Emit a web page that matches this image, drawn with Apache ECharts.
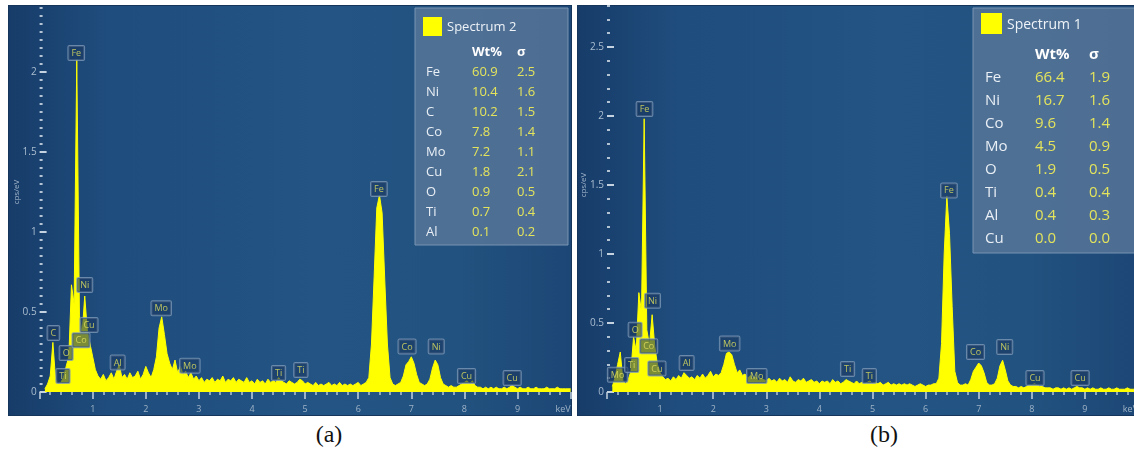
<!DOCTYPE html>
<html>
<head>
<meta charset="utf-8">
<script src="https://cdn.jsdelivr.net/npm/echarts@6/dist/echarts.min.js"></script>
<style>
  html, body { margin: 0; padding: 0; width: 1134px; height: 457px; overflow: hidden; background: #ffffff; }
  .panel {
    position: absolute; top: 5px; width: 564px; height: 411px;
    background: linear-gradient(to right, #173c69 0%, #1f4d7d 18%, #235484 55%, #22527f 80%, #1c4675 100%);
    box-shadow: inset 0 0 0 1px #16355a;
  }
  #pa { left: 8px; }
  #pb { left: 577px; }
  .cap {
    position: absolute; top: 421px; transform: translateX(-50%);
    font-family: "Liberation Serif", serif; font-size: 24px; color: #111;
  }
</style>
</head>
<body>
<div id="pa" class="panel"></div>
<div id="pb" class="panel"></div>
<div class="cap" style="left:329px">(a)</div>
<div class="cap" style="left:884px">(b)</div>
<script>
// Detector channel grid (keV): first channel and channel width
const CHANNEL_START_KEV = 0.10;
const CHANNEL_WIDTH_KEV = 0.05;

// Spectrum 2 intensities (cps/eV), one value per channel, 0.10 .. 10.00 keV
const countsSpectrum2 = [
  0.02,0.05,0.10,0.31,0.08,0.05,0.06,0.09,0.16,0.22,
  0.67,0.55,2.08,0.48,0.36,0.60,0.38,0.30,0.22,0.14,
  0.10,0.08,0.11,0.07,0.09,0.12,0.08,0.13,0.17,0.09,
  0.11,0.08,0.12,0.09,0.10,0.13,0.08,0.11,0.16,0.12,
  0.09,0.14,0.22,0.40,0.47,0.36,0.24,0.18,0.14,0.20,
  0.12,0.16,0.11,0.13,0.09,0.12,0.08,0.10,0.07,0.09,
  0.06,0.08,0.07,0.09,0.06,0.08,0.07,0.10,0.06,0.08,
  0.07,0.09,0.06,0.08,0.07,0.06,0.09,0.06,0.07,0.05,
  0.08,0.06,0.07,0.05,0.08,0.06,0.07,0.06,0.09,0.07,
  0.06,0.05,0.07,0.06,0.05,0.06,0.08,0.07,0.05,0.06,
  0.05,0.04,0.06,0.04,0.05,0.04,0.05,0.06,0.04,0.05,
  0.04,0.06,0.04,0.05,0.04,0.05,0.04,0.05,0.06,0.04,
  0.05,0.06,0.09,0.30,0.72,1.15,1.23,1.12,0.70,0.30,
  0.09,0.05,0.04,0.05,0.06,0.10,0.17,0.19,0.22,0.18,
  0.11,0.06,0.05,0.04,0.05,0.08,0.15,0.20,0.17,0.09,
  0.05,0.04,0.03,0.04,0.03,0.03,0.04,0.05,0.06,0.07,
  0.05,0.07,0.04,0.03,0.03,0.02,0.03,0.02,0.03,0.02,
  0.03,0.02,0.02,0.03,0.02,0.03,0.04,0.03,0.02,0.03,
  0.02,0.02,0.03,0.02,0.02,0.03,0.02,0.02,0.02,0.03,
  0.02,0.02,0.02,0.03,0.02,0.02,0.02,0.02,0.02
];

// Spectrum 1 intensities (cps/eV), same channel grid
const countsSpectrum1 = [
  0.04,0.10,0.20,0.29,0.08,0.06,0.09,0.15,0.40,0.30,
  0.72,0.58,1.98,0.45,0.34,0.56,0.33,0.20,0.14,0.11,
  0.09,0.10,0.08,0.11,0.09,0.12,0.10,0.14,0.12,0.10,
  0.11,0.09,0.12,0.10,0.13,0.10,0.12,0.15,0.11,0.13,
  0.12,0.14,0.20,0.28,0.29,0.27,0.20,0.14,0.16,0.12,
  0.13,0.10,0.12,0.09,0.11,0.08,0.10,0.09,0.08,0.10,
  0.08,0.09,0.07,0.10,0.08,0.09,0.07,0.11,0.08,0.07,
  0.09,0.08,0.10,0.07,0.08,0.09,0.07,0.08,0.06,0.08,
  0.07,0.08,0.06,0.09,0.07,0.08,0.06,0.07,0.09,0.08,
  0.07,0.06,0.08,0.06,0.07,0.06,0.07,0.08,0.06,0.07,
  0.06,0.07,0.05,0.06,0.07,0.05,0.06,0.05,0.06,0.05,
  0.06,0.05,0.06,0.05,0.04,0.05,0.06,0.05,0.04,0.05,
  0.05,0.06,0.06,0.10,0.35,1.00,1.42,1.15,0.62,0.15,
  0.07,0.05,0.05,0.06,0.05,0.09,0.15,0.18,0.21,0.19,
  0.14,0.07,0.05,0.05,0.06,0.10,0.19,0.23,0.16,0.08,
  0.05,0.04,0.04,0.03,0.04,0.03,0.04,0.05,0.05,0.06,
  0.05,0.04,0.04,0.03,0.03,0.03,0.02,0.03,0.03,0.02,
  0.03,0.02,0.03,0.02,0.03,0.04,0.03,0.03,0.02,0.03,
  0.02,0.03,0.02,0.02,0.03,0.02,0.02,0.03,0.02,0.02,
  0.03,0.02,0.02,0.02,0.03,0.02,0.02,0.02,0.02
];

// Peak identification tags: [element, line energy keV, tag base height cps/eV]
const peakTagsSpectrum2 = [
  ['C',0.26,0.325],['Ti',0.44,0.056],['O',0.50,0.20],['Fe',0.69,2.075],
  ['Co',0.78,0.28],['Ni',0.85,0.625],['Cu',0.93,0.375],['Al',1.47,0.14],
  ['Mo',2.29,0.48],['Mo',2.83,0.12],['Ti',4.50,0.075],['Ti',4.92,0.094],
  ['Fe',6.39,1.225],['Co',6.92,0.24],['Ni',7.47,0.24],['Cu',8.04,0.056],['Cu',8.90,0.044]
];
const peakTagsSpectrum1 = [
  ['Mo',0.20,0.075],['Ti',0.465,0.145],['O',0.53,0.40],['Fe',0.706,2.0],
  ['Co',0.785,0.28],['Ni',0.857,0.61],['Cu',0.94,0.12],['Al',1.50,0.16],
  ['Mo',2.31,0.30],['Mo',2.82,0.065],['Ti',4.53,0.116],['Ti',4.94,0.065],
  ['Fe',6.44,1.41],['Co',6.94,0.24],['Ni',7.49,0.275],['Cu',8.06,0.05],['Cu',8.91,0.05]
];

// Quantification tables
const elementsSpectrum2 = ['Fe','Ni','C','Co','Mo','Cu','O','Ti','Al'];
const wtSpectrum2       = ['60.9','10.4','10.2','7.8','7.2','1.8','0.9','0.7','0.1'];
const sigmaSpectrum2    = ['2.5','1.6','1.5','1.4','1.1','2.1','0.5','0.4','0.2'];
const elementsSpectrum1 = ['Fe','Ni','Co','Mo','O','Ti','Al','Cu'];
const wtSpectrum1       = ['66.4','16.7','9.6','4.5','1.9','0.4','0.4','0.0'];
const sigmaSpectrum1    = ['1.9','1.6','1.4','0.9','0.5','0.4','0.3','0.0'];

function toPairs(counts) {
  return counts.map((v, i) => [+(CHANNEL_START_KEV + i * CHANNEL_WIDTH_KEV).toFixed(2), v]);
}

const FONT = '"Open Sans", "Noto Sans", sans-serif';

function tableGraphic(t) {
  const els = [
    { type: 'rect', shape: { x: t.x, y: t.y, width: t.w, height: t.h },
      style: { fill: 'rgba(98,126,158,0.70)', stroke: '#7894b3', lineWidth: 1 }, z: 100 },
    { type: 'rect', shape: { x: t.sqX, y: t.sqY, width: t.sq, height: t.sq },
      style: { fill: '#ffff00' }, z: 101 },
    { type: 'text', x: t.titleX, y: t.titleY, z: 101,
      style: { text: t.title, fill: '#eef3f8', font: t.titleSize + 'px ' + FONT, verticalAlign: 'middle' } },
    { type: 'text', x: t.colWt, y: t.headY, z: 101,
      style: { text: 'Wt%', fill: '#ffffff', font: 'bold ' + t.size + 'px ' + FONT, verticalAlign: 'middle' } },
    { type: 'text', x: t.colSig, y: t.headY, z: 101,
      style: { text: 'σ', fill: '#ffffff', font: 'bold ' + t.size + 'px ' + FONT, verticalAlign: 'middle' } }
  ];
  t.elements.forEach((el, i) => {
    const y = t.row0 + i * t.rowStep;
    els.push({ type: 'text', x: t.colEl, y, z: 101,
      style: { text: el, fill: '#e9eff5', font: t.size + 'px ' + FONT, verticalAlign: 'middle' } });
    els.push({ type: 'text', x: t.colWt, y, z: 101,
      style: { text: t.wt[i], fill: '#e4e45c', font: t.size + 'px ' + FONT, verticalAlign: 'middle' } });
    els.push({ type: 'text', x: t.colSig, y, z: 101,
      style: { text: t.sigma[i], fill: '#e4e45c', font: t.size + 'px ' + FONT, verticalAlign: 'middle' } });
  });
  return els;
}

function makeOption(cfg) {
  return {
    animation: false,
    grid: {
      left: cfg.gridLeft, right: cfg.gridRight, top: cfg.gridTop, bottom: 24,
      containLabel: false, outerBoundsMode: 'none'
    },
    xAxis: {
      type: 'value', min: 0, max: 10, interval: 1, offset: 3,
      axisLine: { show: false },
      axisTick: { show: true, length: 7, lineStyle: { color: '#c5d2df', width: 1.5 } },
      minorTick: { show: true, splitNumber: 5, length: 3, lineStyle: { color: '#b3c3d3', width: 1.5 } },
      splitLine: { show: false },
      axisLabel: {
        fontSize: 9, color: '#9fb3c7', margin: 10, fontFamily: FONT, alignMaxLabel: 'right',
        formatter: v => (v === 0 ? '' : (v === 10 ? 'keV' : String(v)))
      }
    },
    yAxis: {
      type: 'value', min: 0, max: cfg.yMax, interval: 0.5,
      name: 'cps/eV', nameLocation: 'middle', nameGap: 19, nameMoveOverlap: false,
      nameTextStyle: { fontSize: 8, color: '#a3b7cb', fontFamily: FONT },
      axisLine: { show: false },
      axisTick: { show: true, inside: true, length: 7, lineStyle: { color: '#c5d2df', width: 2 } },
      minorTick: { show: true, splitNumber: cfg.yMinorSplit, length: 3, lineStyle: { color: '#b3c3d3', width: 2 } },
      splitLine: { show: false },
      axisLabel: { fontSize: 10, color: '#aabdd0', margin: 3, fontFamily: FONT }
    },
    series: [
      {
        type: 'line', data: toPairs(cfg.counts), showSymbol: false, smooth: false,
        lineStyle: { color: '#ffff00', width: 1 },
        areaStyle: { color: '#ffff00', opacity: 1 },
        z: 2
      },
      {
        type: 'scatter', symbolSize: 0, z: 5,
        data: cfg.tags.map(t => [t[1], t[2], t[0]]),
        label: {
          show: true, position: 'top', distance: 0,
          formatter: p => p.data[2],
          fontSize: 9, lineHeight: 11, fontFamily: FONT, color: '#e2e25e',
          backgroundColor: 'rgba(26,56,96,0.72)', borderColor: '#7d98b7', borderWidth: 1,
          padding: [2, 3, 1, 3], borderRadius: 1
        }
      }
    ],
    graphic: tableGraphic(cfg.table)
  };
}

const chartA = echarts.init(document.getElementById('pa'), null, { renderer: 'canvas' });
chartA.setOption(makeOption({
  counts: countsSpectrum2, tags: peakTagsSpectrum2,
  gridLeft: 31.6, gridRight: 1.4, gridTop: -13, yMax: 2.5, yMinorSplit: 10,
  table: {
    x: 407, y: 3, w: 153, h: 237, sq: 19, sqX: 415, sqY: 12,
    title: 'Spectrum 2', titleX: 439, titleY: 22, titleSize: 13,
    headY: 47, colEl: 418, colWt: 464, colSig: 509, row0: 67, rowStep: 20, size: 13,
    elements: elementsSpectrum2, wt: wtSpectrum2, sigma: sigmaSpectrum2
  }
}));

const chartB = echarts.init(document.getElementById('pb'), null, { renderer: 'canvas' });
chartB.setOption(makeOption({
  counts: countsSpectrum1, tags: peakTagsSpectrum1,
  gridLeft: 30, gridRight: 3, gridTop: -27, yMax: 3.0, yMinorSplit: 5,
  table: {
    x: 396, y: 3, w: 175, h: 245, sq: 21, sqX: 404, sqY: 8,
    title: 'Spectrum 1', titleX: 430, titleY: 20, titleSize: 14,
    headY: 50, colEl: 408, colWt: 458, colSig: 512, row0: 73, rowStep: 23, size: 15,
    elements: elementsSpectrum1, wt: wtSpectrum1, sigma: sigmaSpectrum1
  }
}));
</script>
</body>
</html>
